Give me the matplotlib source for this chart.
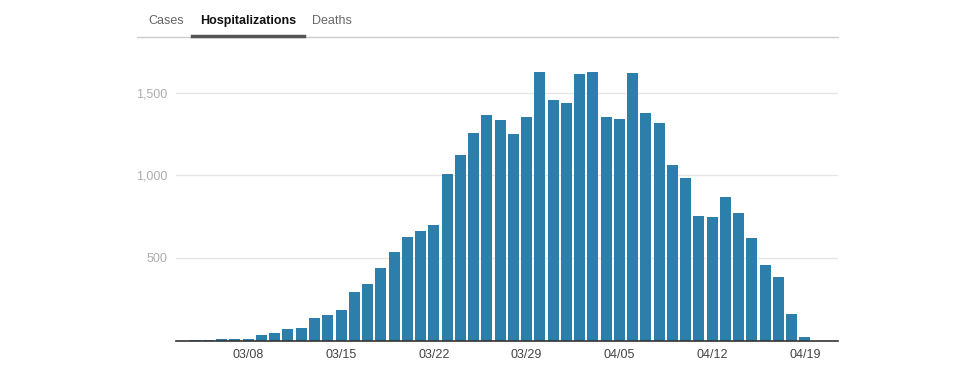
import matplotlib.pyplot as plt
import matplotlib.dates as mdates
import numpy as np
import pandas as pd

plt.rcParams['font.family'] = ['Liberation Sans', 'DejaVu Sans']

# Daily hospitalizations, 03/04 - 04/19
dates = pd.date_range("2020-03-04", "2020-04-19", freq="D")
hospitalizations = [
    6, 6, 7, 7, 8, 33, 47, 70, 76, 136, 156, 185, 294, 342,
    441, 538, 629, 665, 702, 1011, 1126, 1259, 1368, 1338, 1253,
    1356, 1629, 1459, 1441, 1617, 1629, 1356, 1344, 1623, 1381,
    1320, 1065, 987, 756, 750, 872, 775, 623, 459, 387, 162, 23,
]
tabs = ["Cases", "Hospitalizations", "Deaths"]
yticks = [500, 1000, 1500]

W, H = 978, 368
fig = plt.figure(figsize=(W / 100, H / 100), dpi=100)

# axes placed in pixel coords
left, right, top, bottom = 176, 838, 50, 340.5
ax = fig.add_axes([left / W, (H - bottom) / H, (right - left) / W, (bottom - top) / H])

x = mdates.date2num(dates)
ax.bar(x, hospitalizations, width=0.83, color="#2c7fab", zorder=2)

ax.set_xlim(x[0] - 1.45, x[-1] + 2.5)
ax.set_ylim(0, (bottom - top) / 0.165)

ax.set_yticks(yticks)
ax.set_yticklabels([f"{v:,}" for v in yticks])
ax.yaxis.grid(True, color="#e6e6e6", linewidth=1, zorder=0)
ax.tick_params(axis="y", length=0, pad=6, labelsize=9, labelcolor="#adadad")

tick_dates = pd.date_range("2020-03-08", "2020-04-19", freq="7D")
ax.set_xticks(mdates.date2num(tick_dates))
ax.set_xticklabels([d.strftime("%m/%d") for d in tick_dates])
ax.tick_params(axis="x", length=0, pad=6, labelsize=9, labelcolor="#444444")

for s in ["top", "right", "left"]:
    ax.spines[s].set_visible(False)
ax.spines["bottom"].set_color("#333333")
ax.spines["bottom"].set_linewidth(1.2)
ax.spines["bottom"].set_zorder(3)

# tab header
tab_x = [166, 248, 332]
for label, tx in zip(tabs, tab_x):
    active = label == "Hospitalizations"
    fig.text(tx / W, 1 - 21 / H, label, ha="center", va="center", fontsize=9,
             color="#111111" if active else "#666666",
             fontweight="bold" if active else "normal")

fig.add_artist(plt.Line2D([137 / W, 838 / W], [1 - 37.3 / H] * 2, color="#cccccc", linewidth=1))
fig.add_artist(plt.Line2D([192 / W, 304 / W], [1 - 35.5 / H] * 2, color="#555555", linewidth=2.5))

fig.savefig("out.png", dpi=100)
